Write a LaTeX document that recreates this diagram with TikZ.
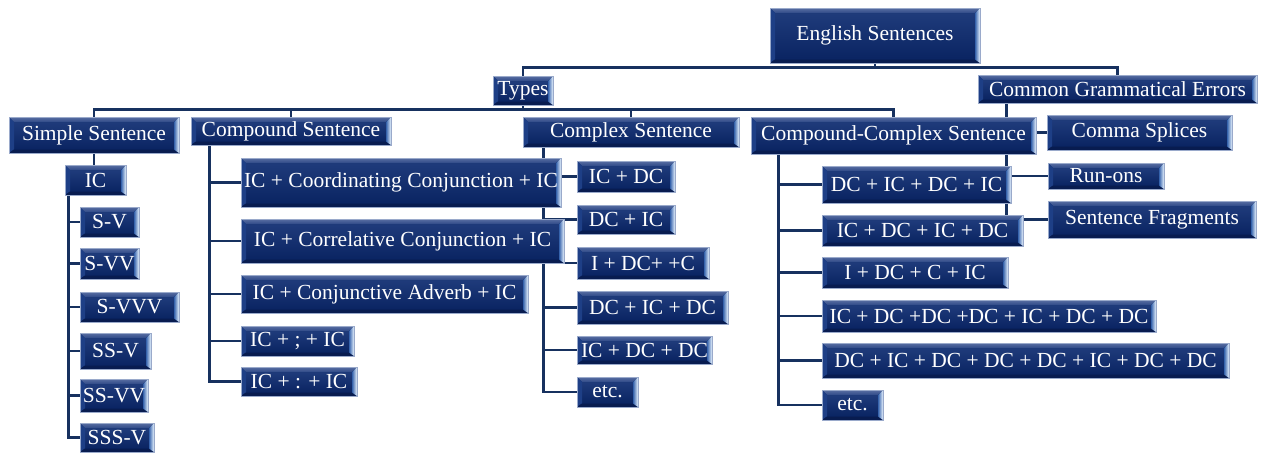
\documentclass[tikz,border=0pt]{standalone}
\usepackage{fontspec}
\setmainfont{Liberation Serif}
\usetikzlibrary{backgrounds}

\definecolor{navyface}{HTML}{0A2462}
\definecolor{facetop}{HTML}{1F3B7B}
\definecolor{navyedge}{HTML}{9AAACB}
\definecolor{bevtop}{HTML}{5A6EA2}
\definecolor{bevtopin}{HTML}{2E4A88}
\definecolor{bevleft}{HTML}{1E3F86}
\definecolor{bevbottom}{HTML}{081C50}
\definecolor{bevright}{HTML}{3663AC}
\definecolor{bevlight}{HTML}{EAF5FF}
\definecolor{connline}{HTML}{17315F}

\tikzset{
  navy/.style={
    draw=navyedge, line width=0.6pt, fill=navyface,
    text=white, inner sep=0pt,
    font=\fontsize{21.5}{24}\selectfont,
    path picture={
      \coordinate (pnw) at (path picture bounding box.north west);
      \coordinate (pne) at (path picture bounding box.north east);
      \coordinate (psw) at (path picture bounding box.south west);
      \coordinate (pse) at (path picture bounding box.south east);
      % face
      \fill[top color=facetop, bottom color=navyface]
        ([shift={(5pt,-5pt)}]pnw) rectangle ([shift={(-5pt,3.5pt)}]pse);
      % top bevel
      \fill[top color=bevtop, bottom color=bevtopin]
        (pnw) -- (pne) -- ([shift={(-5pt,-5pt)}]pne) -- ([shift={(5pt,-5pt)}]pnw) -- cycle;
      % left bevel
      \fill[bevleft]
        (pnw) -- ([shift={(5pt,-5pt)}]pnw) -- ([shift={(5pt,3.5pt)}]psw) -- (psw) -- cycle;
      % bottom bevel
      \fill[bevbottom]
        (psw) -- (pse) -- ([shift={(-5pt,3.5pt)}]pse) -- ([shift={(5pt,3.5pt)}]psw) -- cycle;
      % right bevel
      \fill[left color=bevright, right color=bevlight]
        (pne) -- ([shift={(-5pt,-5pt)}]pne) -- ([shift={(-5pt,3.5pt)}]pse) -- (pse) -- cycle;
    }
  },
  conn/.style={draw=connline, line width=2.6pt}
}

% box given by its corners: name, x1, y1, x2, y2, text
\newcommand\navybox[6]{%
  \pgfmathsetmacro\nbw{#4-#2}%
  \pgfmathsetmacro\nbh{#5-#3}%
  \node[navy, minimum width=\nbw pt, minimum height=\nbh pt] (#1)
    at ({(#2+#4)/2},{(#3+#5)/2}) {#6};}

\begin{document}
\begin{tikzpicture}[x=1pt, y=-1pt]
\useasboundingbox (0,0) rectangle (1261,453);

% top levels
\navybox{es}{770}{8}{980}{63}{English Sentences}
\navybox{types}{493}{76}{553}{105}{Types}
\navybox{cge}{978}{75}{1257}{103}{Common Grammatical Errors}

% sentence types
\navybox{simple}{9}{117}{179}{153}{Simple Sentence}
\navybox{compound}{191}{117}{391}{145}{Compound Sentence}
\navybox{complex}{523}{117}{739}{147}{Complex Sentence}
\navybox{cc}{751}{117}{1036}{154}{Compound-Complex Sentence}

% errors
\navybox{splice}{1047}{115}{1232}{150}{Comma Splices}
\navybox{runon}{1048}{163}{1164}{189}{Run-ons}
\navybox{frag}{1048}{201}{1256}{238}{Sentence Fragments}

% simple sentence
\navybox{ic}{65}{165}{126}{195}{IC}
\navybox{sv}{80}{207}{139}{237}{S-V}
\navybox{svv}{80}{248}{139}{279}{S-VV}
\navybox{svvv}{80}{292}{179}{322}{S-VVV}
\navybox{ssv}{80}{333}{151}{369}{SS-V}
\navybox{ssvv}{80}{379}{148}{412}{SS-VV}
\navybox{sssv}{80}{423}{154}{452}{SSS-V}

% compound sentence
\navybox{coord}{241}{158}{561}{207}{IC + Coordinating Conjunction + IC}
\navybox{corr}{241}{219}{564}{263}{IC + Correlative Conjunction + IC}
\navybox{adv}{241}{275}{528}{313}{IC + Conjunctive Adverb + IC}
\navybox{semi}{241}{326}{354}{356}{IC + ; + IC}
\navybox{colon}{241}{367}{357}{396}{IC + : + IC}

% complex sentence
\navybox{xa}{577}{161}{675}{192}{IC + DC}
\navybox{xb}{577}{205}{675}{234}{DC + IC}
\navybox{xc}{577}{247}{709}{279}{I + DC+ +C}
\navybox{xd}{577}{291}{728}{324}{DC + IC + DC}
\navybox{xe}{577}{336}{712}{364}{IC + DC + DC}
\navybox{xf}{577}{377}{638}{407}{etc.}

% compound-complex sentence
\navybox{ca}{822}{166}{1011}{203}{DC + IC + DC + IC}
\navybox{cb}{822}{215}{1023}{246}{IC + DC + IC + DC}
\navybox{cc3}{822}{257}{1008}{288}{I + DC + C + IC}
\navybox{cd}{822}{300}{1156}{332}{IC + DC +DC +DC + IC + DC + DC}
\navybox{ce}{822}{343}{1229}{378}{DC + IC + DC + DC + DC + IC + DC + DC}
\navybox{cf}{822}{390}{883}{420}{etc.}

\begin{scope}[on background layer]
\begin{scope}[conn]
  % root
  \draw (es.south) -- ++(0,5);
  \draw (types.north) -- ++(0,-8) -| (cge.north);
  % types
  \draw (types.south) -- ++(0,5);
  \draw (simple.north) -- ++(0,-7) -| (cc.north);
  \draw (compound.north) -- ++(0,-7);
  \draw (complex.north) -- ++(0,-7);
  % errors
  \coordinate (et) at ([xshift=29pt]cge.south west);
  \draw (et) |- (frag.west);
  \draw (et |- splice.west) -- (splice.west);
  \draw (et |- runon.west) -- (runon.west);
  % simple
  \draw (simple.south) -- (simple.south |- ic.north);
  \coordinate (st) at ([xshift=4pt]ic.south west);
  \draw (st) |- (sssv.west);
  \foreach \n in {sv,svv,svvv,ssv,ssvv} \draw (st |- \n.west) -- (\n.west);
  % compound
  \coordinate (pt) at ([xshift=19pt]compound.south west);
  \draw (pt) |- (colon.west);
  \foreach \n in {coord,corr,adv,semi} \draw (pt |- \n.west) -- (\n.west);
  % complex
  \coordinate (xt) at ([xshift=21pt]complex.south west);
  \draw (xt) |- (xf.west);
  \foreach \n in {xa,xb,xc,xd,xe} \draw (xt |- \n.west) -- (\n.west);
  % compound-complex
  \coordinate (ct) at ([xshift=28pt]cc.south west);
  \draw (ct) |- (cf.west);
  \foreach \n in {ca,cb,cc3,cd,ce} \draw (ct |- \n.west) -- (\n.west);
\end{scope}
\end{scope}
\end{tikzpicture}
\end{document}
